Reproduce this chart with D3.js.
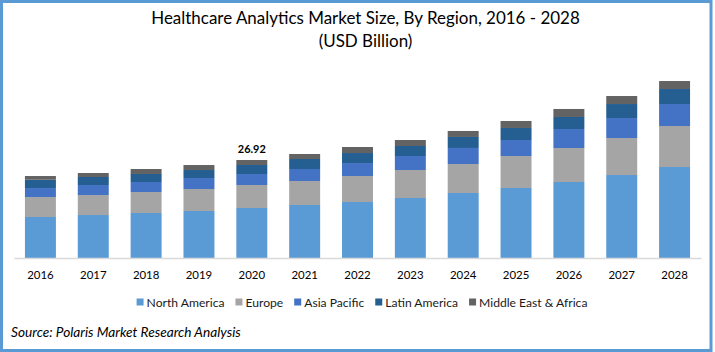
<!DOCTYPE html>
<html>
<head>
<meta charset="utf-8">
<script src="https://cdn.jsdelivr.net/npm/d3@7"></script>
<style>
	html, body { margin: 0; padding: 0; background: #fff; }
	svg { display: block; font-family: Lato, 'Open Sans', sans-serif; }
</style>
</head>
<body>
<div id="chart"></div>
<script>

const years = ['2016','2017','2018','2019','2020','2021','2022','2023','2024','2025','2026','2027','2028'];
const regions = ['North America','Europe','Asia Pacific','Latin America','Middle East & Africa'];

const northAmerica = [11.26,11.81,12.36,12.91,13.74,14.56,15.38,16.48,17.86,19.23,20.88,22.80,25.00];
const europe       = [5.49,5.49,5.77,6.04,6.32,6.59,7.14,7.69,7.97,8.79,9.34,10.16,11.26];
const asiaPacific  = [2.47,2.75,2.75,3.02,3.02,3.30,3.57,3.85,4.40,4.40,5.22,5.49,6.04];
const latinAmerica = [2.28,2.20,2.20,2.20,2.47,2.75,2.75,2.75,3.02,3.30,3.30,3.85,4.12];
const middleEast   = [1.02,1.10,1.37,1.37,1.37,1.37,1.65,1.65,1.65,1.92,2.20,2.20,2.20];

const labelYear = '2020';
const labelValue = '26.92';

const colors = ['#5b9bd5','#a5a5a5','#4472c4','#255e91','#636363'];

// build rows for the stack
const rows = years.map(function(y,i){
	return {
		year: y,
		'North America': northAmerica[i],
		'Europe': europe[i],
		'Asia Pacific': asiaPacific[i],
		'Latin America': latinAmerica[i],
		'Middle East & Africa': middleEast[i]
	};
});

const W = 715, H = 352;

const svg = d3.select('#chart').append('svg')
	.attr('width', W)
	.attr('height', H);

svg.append('rect')
	.attr('width', W).attr('height', H)
	.attr('fill', '#fff');

// squeeze / stretch a text node to a target width by changing font size
function fit(sel, target){
	const w = sel.node().getComputedTextLength();
	const fs = parseFloat(sel.attr('font-size'));
	if (w > 0) sel.attr('font-size', (fs*target/w).toFixed(2));
	return sel;
}

////////////////////////////////////////////////////////////////////

const title1 = svg.append('text')
	.attr('x', 365.5).attr('y', 24)
	.attr('text-anchor','middle')
	.attr('font-size', 18)
	.attr('fill','#000')
	.text('Healthcare Analytics Market Size, By Region, 2016 - 2028');
fit(title1, 429);

svg.append('text')
	.attr('x', 365.5).attr('y', 47)
	.attr('text-anchor','middle')
	.attr('font-size', title1.attr('font-size'))
	.attr('fill','#000')
	.text('(USD Billion)');

////////////////////////////////////////////////////////////////////

const scaleX = d3.scaleBand()
	.domain(years)
	.range([14, 701])
	.paddingInner(0.414)
	.paddingOuter(0.207);

const scaleY = d3.scaleLinear()
	.domain([0, 50])
	.range([258, 76]);

const stack = d3.stack().keys(regions)(rows);

const plot = svg.append('g').attr('class','plot');

plot.selectAll('.series')
	.data(stack)
	.enter()
	.append('g')
	.attr('class','series')
	.attr('fill', function(d,i){ return colors[i]; })
	.selectAll('rect')
	.data(function(d){ return d; })
	.enter()
	.append('rect')
	.attr('x', function(d){ return scaleX(d.data.year); })
	.attr('width', scaleX.bandwidth())
	.attr('y', function(d){ return scaleY(d[1]); })
	.attr('height', function(d){ return scaleY(d[0]) - scaleY(d[1]); });

////////////////////////////////////////////////////////////////////

const axisX = d3.axisBottom(scaleX)
	.tickSize(0)
	.tickPadding(13)
	.tickSizeOuter(0);

const axisXNode = plot.append('g')
	.attr('class','axis axis-x')
	.attr('transform','translate(0,258)')
	.call(axisX);

axisXNode.select('.domain')
	.attr('stroke','#d9d9d9')
	.attr('stroke-width',1.3);

axisXNode.selectAll('text')
	.attr('font-family','Lato, sans-serif')
	.attr('font-size', 13)
	.attr('fill','#000');

const tickW = [];
axisXNode.selectAll('text').each(function(){ tickW.push(this.getComputedTextLength()); });
axisXNode.selectAll('text').attr('font-size', (13*26.5/d3.mean(tickW)).toFixed(2));

// value label on the highlighted year
const top2020 = stack[stack.length-1][years.indexOf(labelYear)][1];
const valLabel = plot.append('text')
	.attr('x', scaleX(labelYear) + scaleX.bandwidth()/2)
	.attr('y', scaleY(top2020) - 7)
	.attr('text-anchor','middle')
	.attr('font-size', 12)
	.attr('font-weight','bold')
	.attr('fill','#000')
	.text(labelValue);
fit(valLabel, 28);

////////////////////////////////////////////////////////////////////

const legend = svg.append('g').attr('class','legend');
const legendFont = 12;

const items = legend.selectAll('.item')
	.data(regions)
	.enter()
	.append('g')
	.attr('class','item');

items.append('rect')
	.attr('width', 7).attr('height', 7)
	.attr('y', 298.5)
	.attr('fill', function(d,i){ return colors[i]; });

const legendTexts = items.append('text')
	.attr('y', 306.5)
	.attr('font-size', legendFont)
	.attr('fill','#1a1a1a')
	.text(function(d){ return d; });

// scale legend font so 'North America' is about 78px wide
const naW = legendTexts.filter(function(d){ return d === 'North America'; }).node().getComputedTextLength();
legendTexts.attr('font-size', (legendFont*78/naW).toFixed(2));

let cursor = 0;
const offsets = [];
legendTexts.each(function(){
	offsets.push(cursor);
	cursor += 10 + this.getComputedTextLength() + 11;
});
const legendW = cursor - 11;
const legendX0 = 362 - legendW/2;
items.attr('transform', function(d,i){ return `translate(${legendX0 + offsets[i]},0)`; });
items.select('text').attr('x', 10);

////////////////////////////////////////////////////////////////////

const source = svg.append('text')
	.attr('x', 11).attr('y', 336.5)
	.attr('font-size', 14)
	.attr('font-style','italic')
	.attr('fill','#000')
	.text('Source: Polaris Market Research Analysis');
fit(source, 230);

svg.append('rect')
	.attr('x', 1.5).attr('y', 1.5)
	.attr('width', 709.5).attr('height', 349)
	.attr('fill','none')
	.attr('stroke','#5b9bd5')
	.attr('stroke-width', 3);

</script>
</body>
</html>
